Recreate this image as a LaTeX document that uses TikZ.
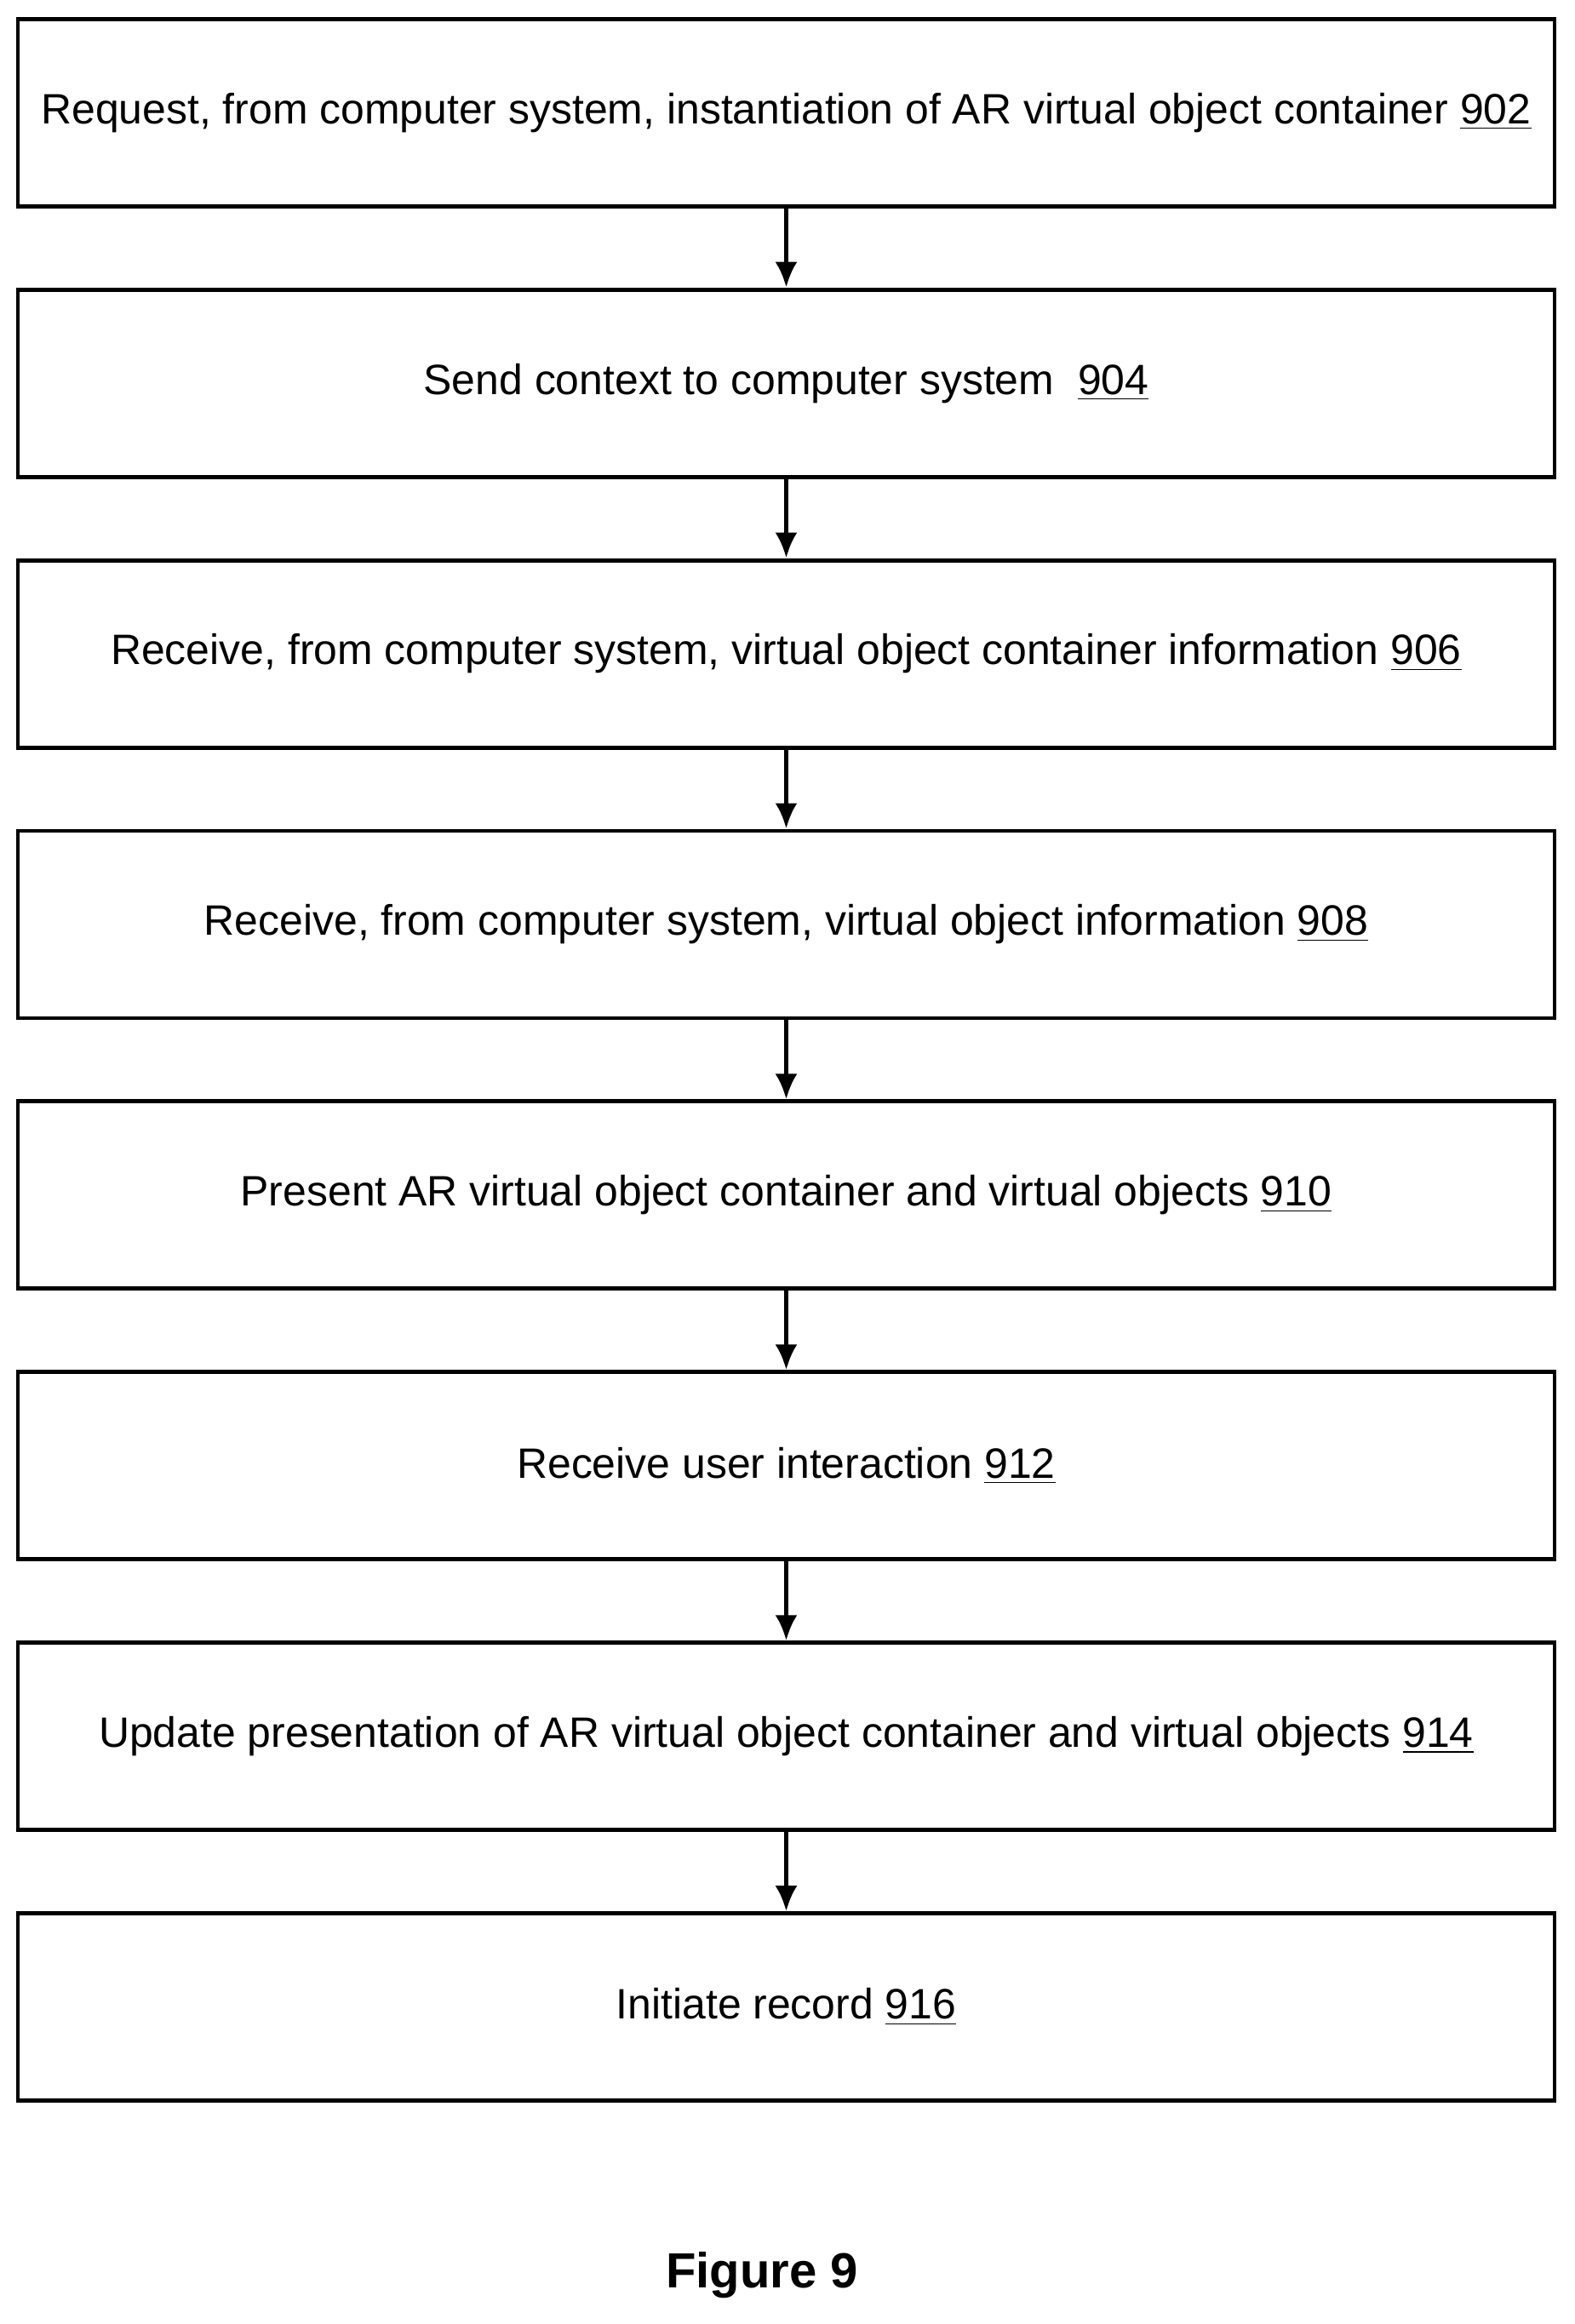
\documentclass[tikz,border=0pt]{standalone}
\usepackage{fontspec}
\setmainfont{Liberation Sans}
\usetikzlibrary{positioning,arrows.meta}
\tikzset{
  stepbox/.style={shape=rectangle,draw=black,line width=1.4pt,minimum width=18.05cm,
    minimum height=2.2cm,inner sep=0pt,font=\fontsize{14.2}{17}\selectfont},
  flow/.style={-{Latex[length=0.3cm,width=0.26cm]},line width=1.4pt}
}
\begin{document}
\begin{tikzpicture}
	\useasboundingbox (0,0) rectangle (18.5,-27.3);

	\node[stepbox] (s902) at (9.235, -1.322) {Request, from computer system, instantiation of AR virtual object container \underline{902}};
	\node[stepbox, below=0.93cm of s902] (s904) {Send context to computer system\ \ \underline{904}};
	\node[stepbox, below=0.93cm of s904] (s906) {Receive, from computer system, virtual object container information \underline{906}};
	\node[stepbox, below=0.93cm of s906] (s908) {Receive, from computer system, virtual object information \underline{908}};
	\node[stepbox, below=0.93cm of s908] (s910) {Present AR virtual object container and virtual objects \underline{910}};
	\node[stepbox, below=0.93cm of s910] (s912) {Receive user interaction \underline{912}};
	\node[stepbox, below=0.93cm of s912] (s914) {Update presentation of AR virtual object container and virtual objects \underline{914}};
	\node[stepbox, below=0.93cm of s914] (s916) {Initiate record \underline{916}};

	\node[font=\fontsize{16.5}{19}\selectfont\bfseries] (fig) at (8.95, -26.73) {Figure 9};

	\path[flow] (s902) edge (s904);
	\path[flow] (s904) edge (s906);
	\path[flow] (s906) edge (s908);
	\path[flow] (s908) edge (s910);
	\path[flow] (s910) edge (s912);
	\path[flow] (s912) edge (s914);
	\path[flow] (s914) edge (s916);

\end{tikzpicture}
\end{document}
